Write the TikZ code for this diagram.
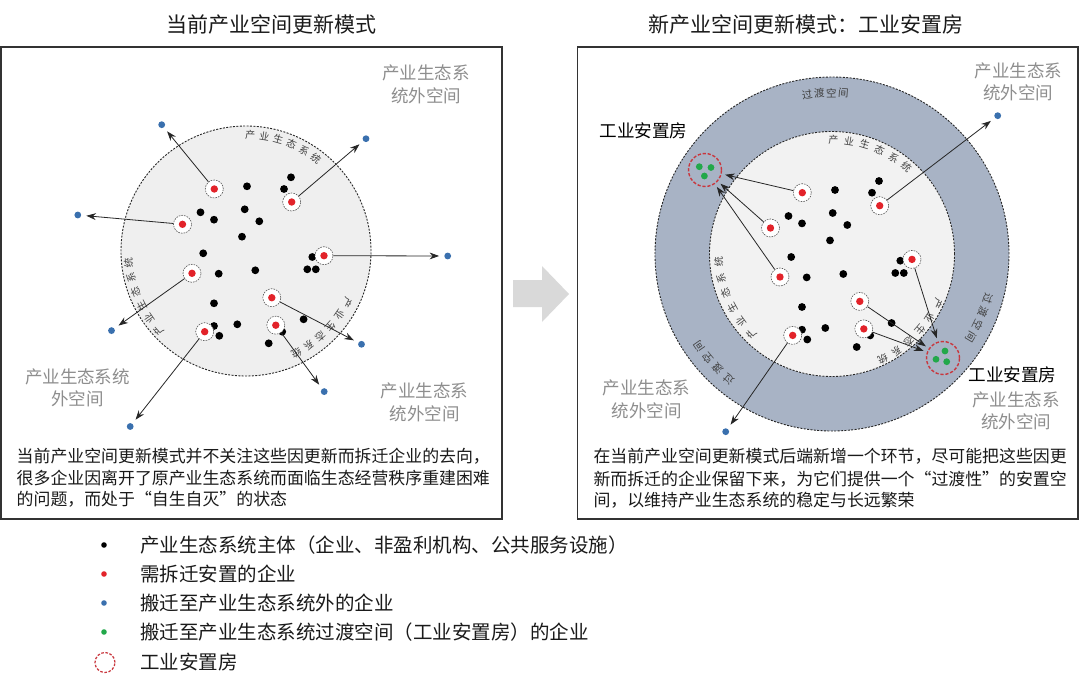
\documentclass[tikz,border=0pt]{standalone}
\usepackage{fontspec}
\setmainfont{Noto Sans CJK SC}
\usetikzlibrary{arrows.meta,calc}
\definecolor{framec}{HTML}{333333}
\definecolor{circfill}{HTML}{EFEFEF}
\definecolor{innerfill}{HTML}{F2F2F2}
\definecolor{ringc}{HTML}{A8B3C5}
\definecolor{bluec}{HTML}{3A70AE}
\definecolor{redc}{HTML}{E2232A}
\definecolor{greenc}{HTML}{22A84A}
\definecolor{housec}{HTML}{C9373E}
\definecolor{graytxt}{HTML}{8E8E8E}
\definecolor{labc}{HTML}{404040}
\definecolor{dashc}{HTML}{555555}
\definecolor{bigarrow}{HTML}{D9D9D9}
\definecolor{txtc}{HTML}{1A1A1A}

% #1 centre, #2 radius, #3 first angle, #4 pitch, #5 name prefix, #6 style, #7 characters
\newcommand\ArcChars[7]{%
  \foreach \ch [count=\i] in {#7} {
    \pgfmathsetmacro\ang{#3-(\i-1)*#4}
    \pgfmathsetmacro\nang{-(\ang)}
    \node[#6,rotate=\ang-90] (#5\i) at ($(#1)+(\nang:#2)$) {\ch};
  }}

\def\blacklist{291/177.3, 284/189, 247/186.3, 244.7/209.3, 259.3/221.3, 200.5/212.3, 214/219.7, 242/236.7, 203.2/253.3, 218.7/273.7, 255.3/270.3, 312.3/257, 307.3/269.3, 315.8/269.3, 214/303.3, 214/326, 219.3/335.8, 237.3/324.3, 303.6/319.3, 282.2/331.7, 268.7/343.3}
\def\redlist{214.3/189, 182.5/224.3, 291.7/202, 324/255.7, 192/273.3, 271.8/297.7, 275.8/325.2, 204.7/331.7}

\begin{document}
\begin{tikzpicture}[x=1pt,y=-1pt,
  bdot/.style={circle,fill=black,inner sep=0pt,minimum size=7.8pt},
  rco/.style={circle,draw=dashc,dash pattern=on 1.6pt off 1.1pt,line width=0.6pt,fill=white,inner sep=0pt,minimum size=18pt},
  bludot/.style={circle,fill=bluec,inner sep=0pt,minimum size=6.8pt},
  gdot/.style={circle,fill=greenc,inner sep=0pt,minimum size=6.8pt},
  house/.style={circle,draw=housec,dash pattern=on 3.2pt off 1.8pt,line width=1.4pt,inner sep=0pt,minimum size=33pt},
  conn/.style={draw=black!85,line width=0.8pt,-{Stealth[length=9.5pt,width=6.8pt]},shorten >=5pt},
  hconn/.style={conn,shorten >=3.5pt},
  outtxt/.style={text=graytxt,font=\fontsize{17.5}{22.4}\selectfont,align=center,inner sep=0pt},
  captxt/.style={anchor=west,text=txtc,font=\fontsize{16.9}{21}\selectfont,inner sep=0pt},
  arcch/.style={font=\fontsize{10}{10}\selectfont,text=labc,inner sep=0pt},
  ringch/.style={font=\fontsize{10.5}{10.5}\selectfont,text=labc,inner sep=0pt},
  titlet/.style={text=txtc,font=\fontsize{21}{24}\selectfont,inner sep=0pt},
  legt/.style={anchor=west,text=txtc,font=\fontsize{19.5}{22}\selectfont,inner sep=0pt},
  hlab/.style={anchor=west,text=black,font=\fontsize{17.6}{21}\selectfont,inner sep=0pt},
  dashcirc/.style={draw=black!85,dash pattern=on 2pt off 1.4pt,line width=0.9pt},
  framebox/.style={draw=framec,line width=1.3pt}
]
\useasboundingbox (0,0) rectangle (1080,690);
\fill[white] (0,0) rectangle (1080,690);

% titles
\node[titlet] (t1) at (271,25) {当前产业空间更新模式};
\node[titlet] (t2) at (806,25) {新产业空间更新模式：工业安置房};

% frames
\draw[framebox] (1,47) rectangle (502,519);
\draw[framebox] (577.5,47) rectangle (1078,519);

% big grey arrow between panels
\fill[bigarrow] (513,280) -- (542,280) -- (542,266) -- (569,294) -- (542,322) -- (542,307) -- (513,307) -- cycle;

% ================= LEFT PANEL =================
\coordinate (cL) at (246,251);
\fill[circfill] (cL) circle (125pt);
\draw[dashcirc] (cL) circle (125pt);

\ArcChars{cL}{116}{87.9}{7.0}{alt}{arcch}{产,业,生,态,系,统}
\ArcChars{cL}{118}{222}{7.2}{all}{arcch}{产,业,生,态,系,统}
\ArcChars{cL}{113.5}{-27.2}{7.3}{alr}{arcch}{产,业,生,态,系,统}

\foreach \x/\y [count=\i] in \blacklist {\node[bdot] (ak\i) at (\x,\y) {};}
\foreach \x/\y [count=\i] in \redlist {
  \node[rco] (aR\i) at (\x,\y) {};
  \fill[redc] (aR\i.center) circle (3.7pt);
}

\node[bludot] (aB1) at (161.7,124.7) {};
\node[bludot] (aB2) at (77.8,215) {};
\node[bludot] (aB3) at (366,138.7) {};
\node[bludot] (aB4) at (447.7,256) {};
\node[bludot] (aB5) at (111.5,330.6) {};
\node[bludot] (aB6) at (361.5,344.3) {};
\node[bludot] (aB7) at (324.2,391.6) {};
\node[bludot] (aB8) at (130.2,426.5) {};
\foreach \i in {1,...,8} {\draw[conn] (aR\i) -- (aB\i);}

\node[outtxt] (ao1) at (426,84.5) {产业生态系\\统外空间};
\node[outtxt] (ao2) at (77.5,387.8) {产业生态系统\\外空间};
\node[outtxt] (ao3) at (424.6,402.5) {产业生态系\\统外空间};

\node[captxt] (ac1) at (16.5,456.7) {当前产业空间更新模式并不关注这些因更新而拆迁企业的去向，};
\node[captxt] (ac2) at (16.5,478.3) {很多企业因离开了原产业生态系统而面临生态经营秩序重建困难};
\node[captxt] (ac3) at (16.5,499.6) {的问题，而处于“自生自灭”的状态};

% ================= RIGHT PANEL =================
\coordinate (cR) at (832,254);
\fill[ringc] (cR) circle (177pt);
\draw[dashcirc] (cR) circle (177pt);
\fill[innerfill] (cR) circle (122.5pt);
\draw[dashcirc] (cR) circle (122.5pt);

\ArcChars{cR}{161}{98.85}{4.3}{brt}{ringch}{过,渡,空,间}
\ArcChars{cR}{162}{-15.9}{5.0}{brr}{ringch}{过,渡,空,间}
\ArcChars{cR}{162}{230.6}{5.3}{brb}{ringch}{过,渡,空,间}

\ArcChars{cR}{114.5}{89.3}{7.96}{bit}{arcch}{产,业,生,态,系,统}
\ArcChars{cR}{113.5}{224.6}{8.1}{bil}{arcch}{产,业,生,态,系,统}
\ArcChars{cR}{116.5}{-25.2}{7.8}{bir}{arcch}{产,业,生,态,系,统}

\begin{scope}[shift={(588,3.7)}]
\foreach \x/\y [count=\i] in \blacklist {\node[bdot] (bk\i) at (\x,\y) {};}
\foreach \x/\y [count=\i] in \redlist {
  \node[rco] (bR\i) at (\x,\y) {};
  \fill[redc] (bR\i.center) circle (3.7pt);
}
\end{scope}

% industrial resettlement houses
\node[house] (H1) at (705,170) {};
\node[gdot] (g11) at (699.3,166.7) {};
\node[gdot] (g12) at (711,167.5) {};
\node[gdot] (g13) at (704.4,176) {};
\node[house] (H2) at (943,358) {};
\node[gdot] (g21) at (945,351) {};
\node[gdot] (g22) at (936,359.3) {};
\node[gdot] (g23) at (946.7,361.7) {};

\node[bludot] (bB3) at (997.7,115.7) {};
\node[bludot] (bB8) at (725.7,431.7) {};

\draw[hconn] (bR1) -- (H1);
\draw[hconn] (bR2) -- (H1);
\draw[hconn] (bR5) -- (H1);
\draw[hconn] (bR6) -- (H2);
\draw[hconn] (bR7) -- (H2);
\draw[hconn] (bR4) -- (H2);
\draw[conn] (bR3) -- (bB3);
\draw[conn] (bR8) -- (bB8);

\node[hlab] (bh1) at (599.3,130.7) {工业安置房};
\node[hlab] (bh2) at (968.3,375) {工业安置房};

\node[outtxt] (bo1) at (1018.3,81.6) {产业生态系\\统外空间};
\node[outtxt] (bo2) at (646.7,399.5) {产业生态系\\统外空间};
\node[outtxt] (bo3) at (1016,410.8) {产业生态系\\统外空间};

\node[captxt] (bc1) at (593.3,456.7) {在当前产业空间更新模式后端新增一个环节，尽可能把这些因更};
\node[captxt] (bc2) at (593.3,479.3) {新而拆迁的企业保留下来，为它们提供一个“过渡性”的安置空};
\node[captxt] (bc3) at (593.3,500.2) {间，以维持产业生态系统的稳定与长远繁荣};

% ================= LEGEND =================
\node[bdot,minimum size=5.6pt] (lg1) at (104,545) {};
\node[circle,fill=redc,inner sep=0pt,minimum size=5.6pt] (lg2) at (104,574) {};
\node[circle,fill=bluec,inner sep=0pt,minimum size=5.6pt] (lg3) at (104,603) {};
\node[circle,fill=greenc,inner sep=0pt,minimum size=5.6pt] (lg4) at (104,632) {};
\node[house,minimum size=20pt,line width=1.2pt,dash pattern=on 2.6pt off 1.6pt] (lg5) at (105,662.5) {};
\node[legt] (lt1) at (140,545) {产业生态系统主体（企业、非盈利机构、公共服务设施）};
\node[legt] (lt2) at (140,574) {需拆迁安置的企业};
\node[legt] (lt3) at (140,603) {搬迁至产业生态系统外的企业};
\node[legt] (lt4) at (140,632) {搬迁至产业生态系统过渡空间（工业安置房）的企业};
\node[legt] (lt5) at (140,662.5) {工业安置房};
\end{tikzpicture}
\end{document}
